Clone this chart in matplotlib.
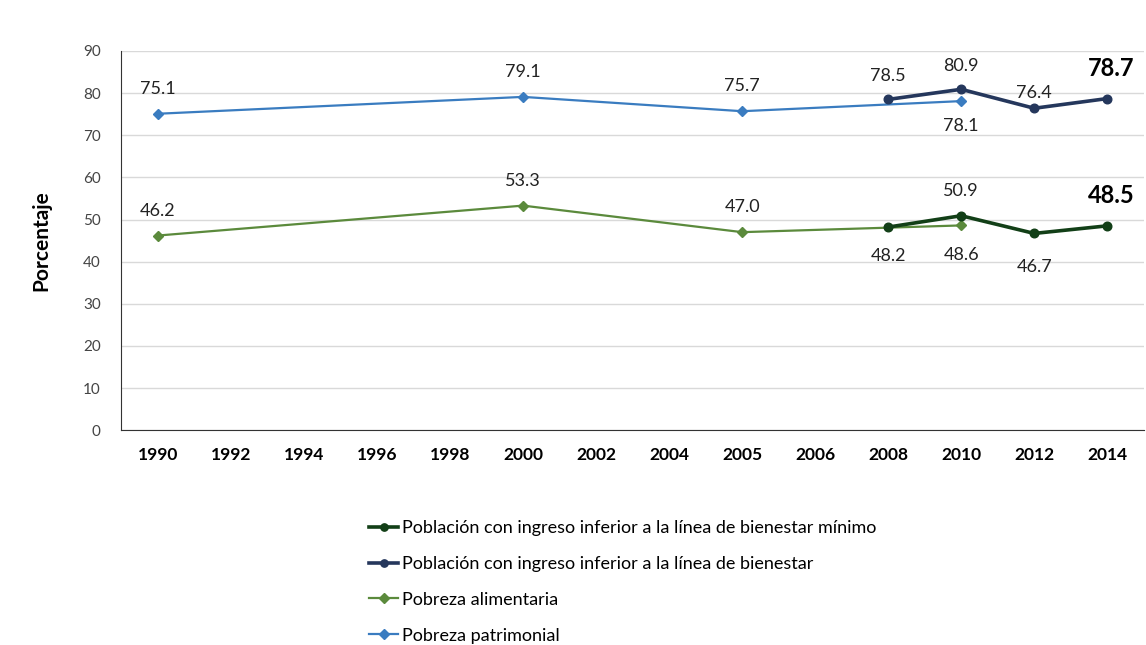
import matplotlib
matplotlib.use("Agg")
import matplotlib.pyplot as plt
import numpy as np

plt.rcParams['font.family'] = ['Lato', 'DejaVu Sans']

years = ['1990', '1992', '1994', '1996', '1998', '2000', '2002', '2004',
         '2005', '2006', '2008', '2010', '2012', '2014']

# series (year -> value), gaps are connected like in the original
bienestar_min_years = ['2008', '2010', '2012', '2014']
bienestar_min = [48.2, 50.9, 46.7, 48.5]
bienestar_years = ['2008', '2010', '2012', '2014']
bienestar = [78.5, 80.9, 76.4, 78.7]
alimentaria_years = ['1990', '2000', '2005', '2010']
alimentaria = [46.2, 53.3, 47.0, 48.6]
patrimonial_years = ['1990', '2000', '2005', '2010']
patrimonial = [75.1, 79.1, 75.7, 78.1]

c_min = '#123f17'
c_bien = '#25375c'
c_ali = '#5b8a3c'
c_pat = '#3a7cc0'

fig = plt.figure(figsize=(11.46, 6.45), dpi=100)
ax = fig.add_axes([0.106, 0.333, 0.892, 0.588])

def xs(ys):
    return [years.index(y) for y in ys]

ax.plot(xs(patrimonial_years), patrimonial, color=c_pat, lw=1.6, marker='D', ms=5.5,
        label='Pobreza patrimonial', zorder=3)
ax.plot(xs(alimentaria_years), alimentaria, color=c_ali, lw=1.6, marker='D', ms=5.5,
        label='Pobreza alimentaria', zorder=3)
ax.plot(xs(bienestar_years), bienestar, color=c_bien, lw=2.6, marker='o', ms=6.2,
        label='Población con ingreso inferior a la línea de bienestar', zorder=4)
ax.plot(xs(bienestar_min_years), bienestar_min, color=c_min, lw=2.6, marker='o', ms=6.2,
        label='Población con ingreso inferior a la línea de bienestar mínimo', zorder=4)

def lab(year, val, dy, bold=False, dx=0):
    ax.annotate(f'{val:.1f}', (years.index(year), val), xytext=(dx, dy),
                textcoords='offset points', ha='center', va='center',
                fontsize=17 if bold else 13, fontweight='bold' if bold else 'normal',
                color='black' if bold else '#222222')

for y, v in zip(patrimonial_years, patrimonial):
    lab(y, v, -18 if y == '2010' else 18)
for y, v in zip(alimentaria_years, alimentaria):
    lab(y, v, -21 if y == '2010' else 18)
for y, v in zip(bienestar_years, bienestar):
    if y == '2014':
        lab(y, v, 22, bold=True, dx=3)
    else:
        lab(y, v, 17 if y != '2012' else 11)
for y, v in zip(bienestar_min_years, bienestar_min):
    if y == '2014':
        lab(y, v, 22, bold=True, dx=3)
    elif y == '2010':
        lab(y, v, 18)
    elif y == '2012':
        lab(y, v, -24)
    else:
        lab(y, v, -21)

ax.set_xlim(-0.5, len(years) - 0.5)
ax.set_ylim(0, 90)
ax.set_yticks(range(0, 91, 10))
ax.set_xticks(range(len(years)))
ax.set_xticklabels(years, fontweight='bold', fontsize=12.5)
ax.tick_params(axis='both', length=0)
ax.tick_params(axis='y', labelsize=11, labelcolor='#444444', pad=15)
ax.tick_params(axis='x', pad=12)
ax.grid(axis='y', color='#d9d9d9', lw=1)
ax.set_axisbelow(True)
for s in ['top', 'right']:
    ax.spines[s].set_visible(False)
ax.spines['left'].set_color('#333333')
ax.spines['bottom'].set_color('#333333')

fig.text(0.036, 0.627, 'Porcentaje', rotation=90, ha='center', va='center',
         fontsize=15, fontweight='bold')

h, l = ax.get_legend_handles_labels()
fig.legend(h[::-1], l[::-1], loc='upper left', bbox_to_anchor=(0.316, 0.205),
           frameon=False, fontsize=13, handlelength=1.6, handletextpad=0.2,
           labelspacing=1.1, borderaxespad=0, markerscale=0.85)

fig.savefig('out.png', dpi=100)
